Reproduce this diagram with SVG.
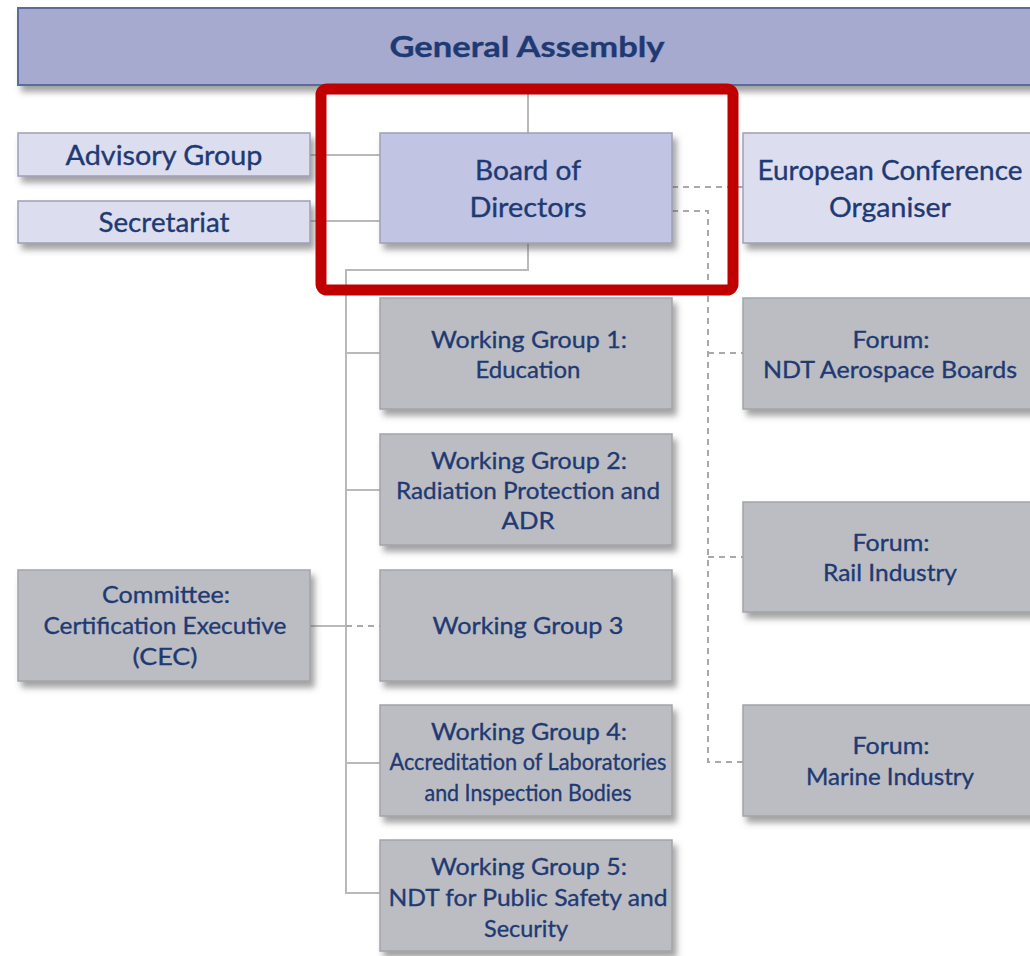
<svg xmlns="http://www.w3.org/2000/svg" width="1030" height="956" viewBox="0 0 1030 956">
<defs>
<filter id="sh" x="-10%" y="-20%" width="130%" height="150%">
<feDropShadow dx="4" dy="6" stdDeviation="3" flood-color="#555" flood-opacity="0.55"/>
</filter>
<style>
.t{font-family:Lato,"Open Sans","DejaVu Sans",sans-serif;fill:#1f3a73;text-anchor:middle;stroke:#1f3a73;stroke-width:0.35}
.s{font-size:24px}
.m{font-size:27px}
.ga{fill:#a6aace;stroke:#5a6c9c;stroke-width:2}
.lt{fill:#dcdef0;stroke:#9da0b5;stroke-width:1.5}
.bd{fill:#c1c4e3;stroke:#9da0b5;stroke-width:1.5}
.gr{fill:#bcbdc2;stroke:#a3a4a9;stroke-width:1.5}
.ln{fill:none;stroke:#b9b9bd;stroke-width:2}
.dl{fill:none;stroke:#a9a9ad;stroke-width:2;stroke-dasharray:6 5}
</style>
</defs>
<rect width="1030" height="956" fill="#ffffff"/>
<g id="connectors">
<path class="ln" d="M528 85V133"/>
<path class="ln" d="M310 155H380"/>
<path class="ln" d="M310 221H380"/>
<path class="ln" d="M528 243V270H346V893H380"/>
<path class="ln" d="M346 353H380"/>
<path class="ln" d="M346 490H380"/>
<path class="ln" d="M346 763H380"/>
<path class="ln" d="M310 626H346"/>
<path class="dl" d="M346 626H380"/>
<path class="dl" d="M672 187H743"/>
<path class="dl" d="M672 211H708V762H743"/>
<path class="dl" d="M708 353H743"/>
<path class="dl" d="M708 557H743"/>
</g>
<g id="general-assembly">
<rect class="ga" x="18" y="8" width="1020" height="77" filter="url(#sh)"/>
<text class="t" x="527" y="57" font-size="29" font-weight="bold" textLength="275" lengthAdjust="spacingAndGlyphs">General Assembly</text>
</g>
<g id="advisory-group">
<rect class="lt" x="18" y="133" width="292" height="43" filter="url(#sh)"/>
<text class="t m" x="164" y="165" textLength="197" lengthAdjust="spacingAndGlyphs">Advisory Group</text>
</g>
<g id="secretariat">
<rect class="lt" x="18" y="201" width="292" height="42" filter="url(#sh)"/>
<text class="t m" x="164" y="232" textLength="131" lengthAdjust="spacingAndGlyphs">Secretariat</text>
</g>
<g id="board-of-directors">
<rect class="bd" x="380" y="133" width="292" height="110" filter="url(#sh)"/>
<text class="t m" x="528" y="180" textLength="106" lengthAdjust="spacingAndGlyphs">Board of</text>
<text class="t m" x="528" y="217" textLength="117" lengthAdjust="spacingAndGlyphs">Directors</text>
</g>
<g id="european-conference-organiser">
<rect class="lt" x="743" y="133" width="300" height="110" filter="url(#sh)"/>
<text class="t m" x="890" y="180" textLength="265" lengthAdjust="spacingAndGlyphs">European Conference</text>
<text class="t m" x="890" y="217" textLength="122" lengthAdjust="spacingAndGlyphs">Organiser</text>
</g>
<g id="highlight">
<rect x="321" y="89" width="412" height="201" rx="6" fill="none" stroke="#c00000" stroke-width="11"/>
</g>
<g id="wg1">
<rect class="gr" x="380" y="298" width="292" height="111" filter="url(#sh)"/>
<text class="t s" x="529" y="348" textLength="196" lengthAdjust="spacingAndGlyphs">Working Group 1:</text>
<text class="t s" x="528" y="378" textLength="105" lengthAdjust="spacingAndGlyphs">Education</text>
</g>
<g id="wg2">
<rect class="gr" x="380" y="434" width="292" height="111" filter="url(#sh)"/>
<text class="t s" x="529" y="469" textLength="196" lengthAdjust="spacingAndGlyphs">Working Group 2:</text>
<text class="t s" x="528" y="499" textLength="264" lengthAdjust="spacingAndGlyphs">Radiation Protection and</text>
<text class="t s" x="528" y="529" textLength="53" lengthAdjust="spacingAndGlyphs">ADR</text>
</g>
<g id="wg3">
<rect class="gr" x="380" y="570" width="292" height="111" filter="url(#sh)"/>
<text class="t s" x="528" y="634" textLength="191" lengthAdjust="spacingAndGlyphs">Working Group 3</text>
</g>
<g id="wg4">
<rect class="gr" x="380" y="705" width="292" height="111" filter="url(#sh)"/>
<text class="t s" x="529" y="740" textLength="196" lengthAdjust="spacingAndGlyphs">Working Group 4:</text>
<text class="t s" x="528" y="770" textLength="277" lengthAdjust="spacingAndGlyphs">Accreditation of Laboratories</text>
<text class="t s" x="528" y="801" textLength="207" lengthAdjust="spacingAndGlyphs">and Inspection Bodies</text>
</g>
<g id="wg5">
<rect class="gr" x="380" y="840" width="292" height="111" filter="url(#sh)"/>
<text class="t s" x="529" y="875" textLength="196" lengthAdjust="spacingAndGlyphs">Working Group 5:</text>
<text class="t s" x="528" y="906" textLength="279" lengthAdjust="spacingAndGlyphs">NDT for Public Safety and</text>
<text class="t s" x="526" y="937" textLength="84" lengthAdjust="spacingAndGlyphs">Security</text>
</g>
<g id="cec">
<rect class="gr" x="18" y="570" width="292" height="111" filter="url(#sh)"/>
<text class="t s" x="166" y="603" textLength="128" lengthAdjust="spacingAndGlyphs">Committee:</text>
<text class="t s" x="165" y="634" textLength="243" lengthAdjust="spacingAndGlyphs">Certification Executive</text>
<text class="t s" x="165" y="665" textLength="65" lengthAdjust="spacingAndGlyphs">(CEC)</text>
</g>
<g id="forum-ndt">
<rect class="gr" x="743" y="298" width="300" height="111" filter="url(#sh)"/>
<text class="t s" x="891" y="348" textLength="77" lengthAdjust="spacingAndGlyphs">Forum:</text>
<text class="t s" x="890" y="378" textLength="254" lengthAdjust="spacingAndGlyphs">NDT Aerospace Boards</text>
</g>
<g id="forum-rail">
<rect class="gr" x="743" y="502" width="300" height="110" filter="url(#sh)"/>
<text class="t s" x="891" y="551" textLength="77" lengthAdjust="spacingAndGlyphs">Forum:</text>
<text class="t s" x="890" y="581" textLength="134" lengthAdjust="spacingAndGlyphs">Rail Industry</text>
</g>
<g id="forum-marine">
<rect class="gr" x="743" y="705" width="300" height="111" filter="url(#sh)"/>
<text class="t s" x="891" y="754" textLength="77" lengthAdjust="spacingAndGlyphs">Forum:</text>
<text class="t s" x="890" y="785" textLength="168" lengthAdjust="spacingAndGlyphs">Marine Industry</text>
</g>
</svg>
